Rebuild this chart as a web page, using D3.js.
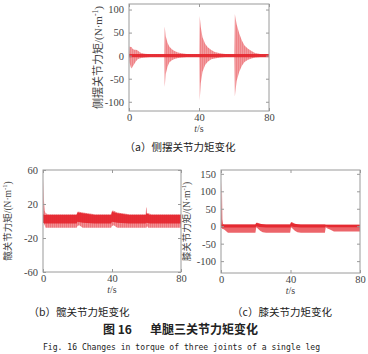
<!DOCTYPE html>
<html>
<head>
<meta charset="utf-8">
<script src="https://cdn.jsdelivr.net/npm/d3@7"></script>
<style>
    body { margin: 0; background: #fff; }
    svg { display: block; }
</style>
</head>
<body>
<svg id="chart" width="368" height="354"></svg>
<script>
// Panel (a) - side swing joint: envelope of the oscillation
const tA   = [0, 0.3, 1, 1.5, 2, 3, 4, 5, 6, 7, 9, 12, 20.2, 20.4, 21, 22, 23, 24.5, 26, 28, 30, 33, 40.2, 40.4, 41, 42, 43.5, 45, 47, 49, 52, 55, 60.2, 60.5, 61.5, 63, 64.5, 66, 68, 70, 72, 75, 80];
const hiA  = [3, 20, 19, 19, 15, 13, 13, 11, 8, 6, 4, 3, 3, 63, 42, 28, 20, 14, 10, 7, 5, 3.5, 3, 86, 62, 40, 26, 18, 12, 8, 5, 3.5, 3, 90, 68, 48, 33, 22, 15, 10, 6, 3.5, 3];
const loA  = [-3, -15, -25, -28, -24, -18, -12, -8, -6, -5, -4, -3, -3, -68, -40, -24, -15, -10, -7, -5, -4, -3, -3, -97, -60, -35, -20, -13, -8, -6, -4, -3, -3, -88, -55, -35, -22, -14, -9, -6, -4, -3, -3];
const tAc  = [0, 80];
const hiAc = [3.5, 3.5];
const loAc = [-3.5, -3.5];

// Panel (b) - hip joint
const tB   = [0, 0.2, 0.5, 1, 1.5, 3, 19.5, 20, 21, 23, 26, 30, 39.5, 40, 41, 43, 46, 50, 59.5, 59.8, 60, 60.3, 61, 63, 80];
const hiB  = [8, 50, 25, 12, 9, 8, 8, 11, 11, 10, 9, 8, 8, 12, 12, 10, 9, 8, 8, 16, 16, 9, 9, 8, 8];
const loB  = [-2, -2, -3, -5, -8, -8, -8, -6, -5, -8, -8, -8, -8, -6, -5, -8, -8, -8, -8, -8, -8, -6, -8, -8, -8];
const tBc  = [0, 1, 19.5, 20, 23, 30, 39.5, 40, 43, 50, 59.5, 60, 62, 80];
const hiBc = [8, 7, 7, 10, 9, 7, 7, 11, 9, 7, 7, 9, 7, 7];
const loBc = [-2, -3, -3, -1, -2, -3, -3, -1, -2, -3, -3, -2, -3, -3];

// Panel (c) - knee joint
const tC   = [0, 0.5, 0.8, 1.2, 2, 4, 19.8, 20.3, 21, 22.5, 24, 26, 39.8, 40.3, 41, 42.5, 44, 46, 59.8, 60.3, 61, 63, 65, 80];
const hiC  = [5, 130, 20, 6, 5, 5, 5, 10, 10, 7, 5, 5, 5, 12, 11, 7, 5, 5, 5, 4, 4, 4, 4, 4];
const loC  = [-5, -5, -8, -8, -10, -19, -19, -3, -6, -13, -17, -19, -19, -3, -6, -13, -17, -19, -19, -3, -6, -10, -15, -15];
const tCc  = [0, 2, 19.8, 20.3, 22, 26, 39.8, 40.3, 42, 46, 59.8, 60.3, 62, 80];
const hiCc = [5, 5, 5, 9, 7, 5, 5, 10, 7, 5, 5, 4, 4, 4];
const loCc = [-4, -4, -4, 0, -2, -4, -4, 0, -2, -4, -4, 0, -3, -3];

const xTicks = [0, 40, 80];
const yTicksA = [100, 50, 0, -50, -100];
const yTicksB = [60, 20, -20, -60];
const yTicksC = [150, 100, 50, 0, -50, -100];

const RED = '#e4232b';
const SERIF = '"Liberation Serif", "Times New Roman", serif';
const CJK = '"Noto Sans CJK SC", sans-serif';
const svg = d3.select('#chart');

// soft stripes to mimic the dense oscillation
const defs = svg.append('defs');
const pat = defs.append('pattern')
    .attr('id', 'stripes')
    .attr('patternUnits', 'userSpaceOnUse')
    .attr('width', 2).attr('height', 4);
pat.append('rect').attr('width', 2).attr('height', 4).attr('fill', RED).attr('opacity', 0.5);
pat.append('rect').attr('width', 1).attr('height', 4).attr('fill', RED).attr('opacity', 0.25);

function toRows(t, hi, lo) {
    return t.map((v, i) => ({ t: v, hi: hi[i], lo: lo[i] }));
}

function drawPanel(cfg) {
    const x = d3.scaleLinear().domain([0, 80]).range([cfg.x0, cfg.x1]);
    const y = d3.scaleLinear().domain(cfg.yDomain).range([cfg.y1, cfg.y0]);
    const g = svg.append('g');

    const area = d3.area()
        .x(d => x(d.t))
        .y0(d => y(d.lo))
        .y1(d => y(d.hi));

    g.append('path')
        .attr('d', area(toRows(cfg.t, cfg.hi, cfg.lo)))
        .attr('fill', cfg.outerFill)
        .attr('opacity', cfg.outerOpacity);

    g.append('path')
        .attr('d', area(toRows(cfg.tc, cfg.hic, cfg.loc)))
        .attr('fill', RED)
        .attr('opacity', 0.9);

    // box
    g.append('rect')
        .attr('x', cfg.x0).attr('y', cfg.y0)
        .attr('width', cfg.x1 - cfg.x0).attr('height', cfg.y1 - cfg.y0)
        .attr('fill', 'none').attr('stroke', '#9a9a9a').attr('stroke-width', 1);

    // inward ticks on all sides, labels left and bottom
    const fmt = d => String(d);
    const axBottom = d3.axisBottom(x).tickValues(xTicks).tickSize(-3).tickPadding(3).tickFormat(fmt);
    const axTop = d3.axisTop(x).tickValues(xTicks).tickSize(-3).tickFormat('');
    const axLeft = d3.axisLeft(y).tickValues(cfg.yTicks).tickSize(-3).tickPadding(5).tickFormat(fmt);
    const axRight = d3.axisRight(y).tickValues(cfg.yTicks).tickSize(-3).tickFormat('');

    [[axBottom, `translate(0,${cfg.y1})`], [axTop, `translate(0,${cfg.y0})`],
     [axLeft, `translate(${cfg.x0},0)`], [axRight, `translate(${cfg.x1},0)`]].forEach(([ax, tr]) => {
        const a = g.append('g').attr('transform', tr).call(ax);
        a.attr('font-family', SERIF).attr('font-size', 10.5);
        a.select('.domain').remove();
        a.selectAll('line').attr('stroke', '#9a9a9a');
        a.selectAll('text').attr('fill', '#444');
    });

    // x label t/s
    const xl = g.append('text')
        .attr('x', (cfg.x0 + cfg.x1) / 2)
        .attr('y', cfg.y1 + 21)
        .attr('text-anchor', 'middle')
        .attr('font-family', SERIF)
        .attr('font-size', 10)
        .attr('fill', '#444');
    xl.append('tspan').attr('font-style', 'italic').text('t');
    xl.append('tspan').text('/s');

    // y label: CJK part + unit part
    const yl = g.append('text')
        .attr('transform', `translate(${cfg.labelX},${(cfg.y0 + cfg.y1) / 2}) rotate(-90)`)
        .attr('text-anchor', 'middle')
        .attr('font-family', SERIF)
        .attr('font-size', cfg.labelSize)
        .attr('fill', '#444');
    yl.append('tspan').attr('font-family', CJK).text(cfg.yLabel);
    yl.append('tspan').text('/(N·m');
    yl.append('tspan').attr('font-size', cfg.labelSize * 0.7).attr('dy', -4).text('-1');
    yl.append('tspan').attr('dy', 4).text(')');

    // caption
    g.append('text')
        .attr('x', cfg.capX).attr('y', cfg.capY)
        .attr('text-anchor', 'middle')
        .attr('font-family', CJK)
        .attr('font-size', 10.5)
        .attr('fill', '#222')
        .text(cfg.caption);
}

drawPanel({
    x0: 129, x1: 269, y0: 4, y1: 111, yDomain: [-120, 112], yTicks: yTicksA,
    t: tA, hi: hiA, lo: loA, tc: tAc, hic: hiAc, loc: loAc,
    outerFill: 'url(#stripes)', outerOpacity: 0.9,
    labelX: 102, labelSize: 11, yLabel: '侧摆关节力矩',
    capX: 180, capY: 151, caption: '（a）侧摆关节力矩变化'
});

drawPanel({
    x0: 43, x1: 181, y0: 170, y1: 272, yDomain: [-60, 60], yTicks: yTicksB,
    t: tB, hi: hiB, lo: loB, tc: tBc, hic: hiBc, loc: loBc,
    outerFill: 'url(#stripes)', outerOpacity: 1,
    labelX: 11, labelSize: 9.5, yLabel: '髋关节力矩',
    capX: 79, capY: 316, caption: '（b）髋关节力矩变化'
});

drawPanel({
    x0: 221, x1: 360, y0: 170, y1: 273, yDomain: [-134, 161], yTicks: yTicksC,
    t: tC, hi: hiC, lo: loC, tc: tCc, hic: hiCc, loc: loCc,
    outerFill: RED, outerOpacity: 0.7,
    labelX: 190, labelSize: 9.5, yLabel: '膝关节力矩',
    capX: 282, capY: 316, caption: '（c）膝关节力矩变化'
});

// figure title
svg.append('text')
    .attr('x', 103).attr('y', 334)
    .attr('font-family', CJK)
    .attr('font-size', 12).attr('font-weight', 'bold')
    .attr('fill', '#222')
    .text('图 16');
svg.append('text')
    .attr('x', 150).attr('y', 334)
    .attr('font-family', CJK)
    .attr('font-size', 12).attr('font-weight', 'bold')
    .attr('fill', '#222')
    .text('单腿三关节力矩变化');
svg.append('text')
    .attr('x', 43).attr('y', 350)
    .attr('font-family', '"DejaVu Sans Mono", monospace')
    .attr('font-size', 9)
    .attr('textLength', 277).attr('lengthAdjust', 'spacingAndGlyphs')
    .attr('fill', '#222')
    .text('Fig. 16 Changes in torque of three joints of a single leg');
</script>
</body>
</html>
